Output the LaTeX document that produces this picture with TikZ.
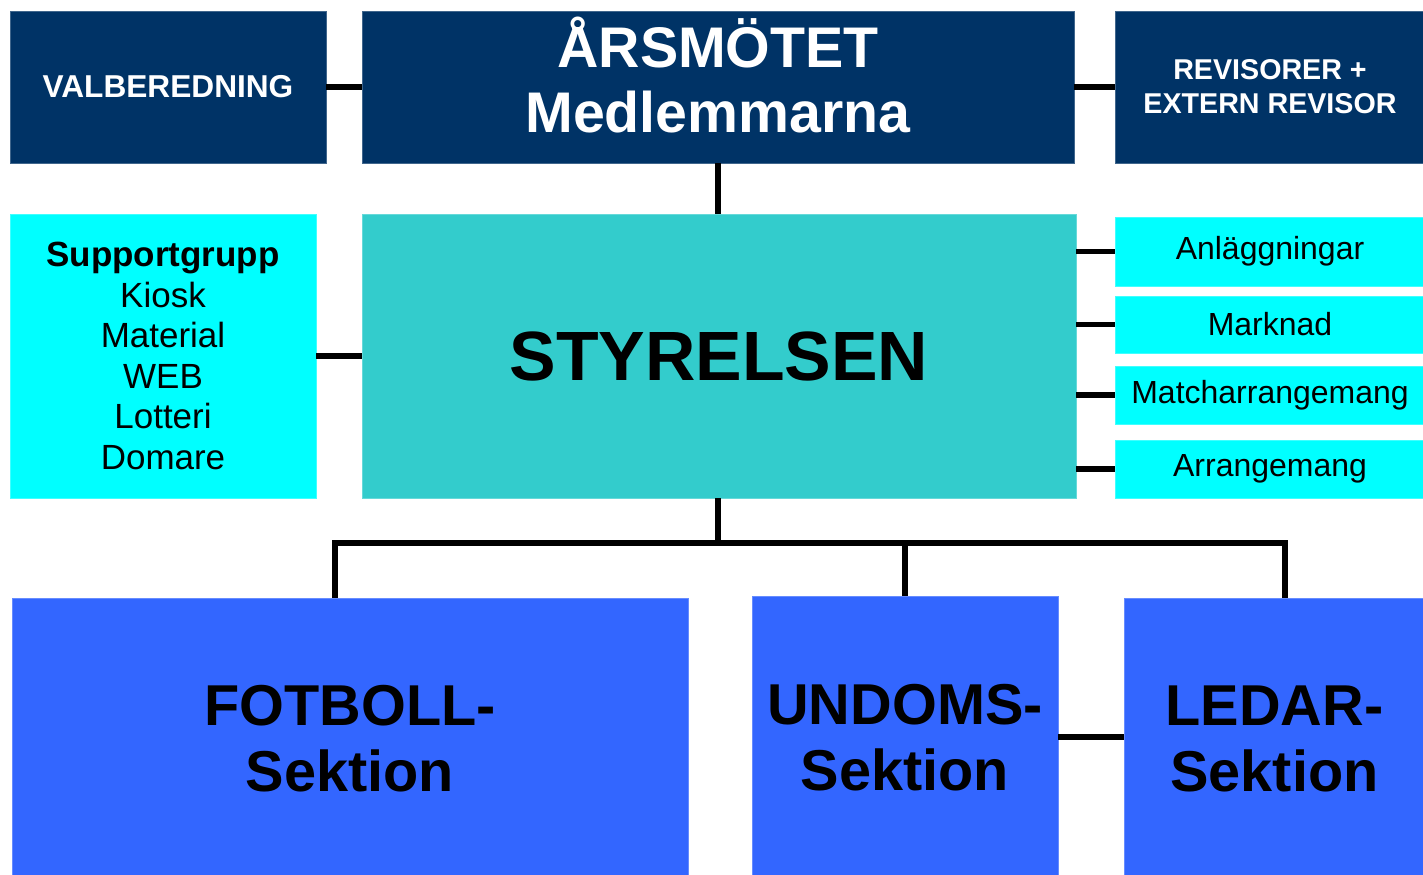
\documentclass[tikz,border=0pt]{standalone}
\usepackage{fontspec}
\setmainfont{Liberation Sans}
\definecolor{navy}{HTML}{003366}
\definecolor{teal}{HTML}{33CCCC}
\definecolor{aqua}{HTML}{00FFFF}
\definecolor{royal}{HTML}{3366FF}
\begin{document}
\begin{tikzpicture}[line width=3.4pt,
    box/.style = {rectangle,draw=#1!75!white,line width=0.5pt,fill=#1,inner sep=2pt,align=center},
    top/.style = {box=navy,text=white,font=\bfseries\fontsize{18}{19.3}\selectfont,minimum height=3.04cm},
    task/.style = {box=aqua,minimum width=6.2cm,font=\fontsize{18.2}{20}\selectfont},
    sektion/.style = {box=royal,font=\bfseries\fontsize{32.8}{37.5}\selectfont}]

        \useasboundingbox (0,0) rectangle (28.46,-17.48);

        % Top row
        \node [top,minimum width=6.32cm] (val) at (3.36,-1.74) {VALBEREDNING};
        \node [top,minimum width=14.24cm] (ars) at (14.36,-1.74) {};
        \node [text=white,font=\bfseries\fontsize{32.6}{37}\selectfont,align=center] (arstext) at (14.36,-1.50) {ÅRSMÖTET\\Medlemmarna};
        \node [top,minimum width=6.2cm,font=\bfseries\fontsize{16.3}{19.3}\selectfont] (rev) at (25.4,-1.74) {REVISORER +\\EXTERN REVISOR};

        % Middle row
        \node [box=aqua,minimum width=6.12cm,minimum height=5.68cm,font=\fontsize{19.9}{23.1}\selectfont] (sup) at (3.26,-7.12)
            {\textbf{Supportgrupp}\\Kiosk\\Material\\WEB\\Lotteri\\Domare};
        \node [box=teal,minimum width=14.28cm,minimum height=5.68cm,font=\bfseries\fontsize{39.7}{44}\selectfont] (sty) at (14.38,-7.12) {STYRELSEN};

        % Groups to the right
        \node [task,minimum height=1.38cm] (anl) at (25.4,-5.03) {Anläggningar};
        \node [task,minimum height=1.14cm] (mark) at (25.4,-6.49) {Marknad};
        \node [task,minimum height=1.16cm] (match) at (25.4,-7.90) {Matcharrangemang};
        \node [task,minimum height=1.16cm] (arr) at (25.4,-9.38) {Arrangemang};

        % Sections
        \node [sektion,minimum width=13.52cm,minimum height=5.64cm] (fot) at (7.0,-14.78) {FOTBOLL-\\Sektion};
        \node [sektion,minimum width=6.12cm,minimum height=5.68cm] (und) at (18.1,-14.76) {UNDOMS-\\Sektion};
        \node [sektion,minimum width=6.02cm,minimum height=5.64cm] (led) at (25.49,-14.78) {LEDAR-\\Sektion};

        % Connectors
        \draw (val.east) -- (ars.west);
        \draw (ars.east) -- (rev.west);
        \draw (ars.south) -- (ars.south |- sty.north);
        \draw (sup.east) -- (sty.west);
        \foreach \g in {anl,mark,match,arr}
            \draw (\g.west) -- (\g.west -| sty.east);

        \coordinate (busL) at (6.7,-10.86);
        \coordinate (busR) at (25.7,-10.86);
        \draw (ars.south |- sty.south) -- (ars.south |- busL);
        \draw (fot.north -| busL) -- (busL) -- (busR) -- (led.north -| busR);
        \draw (und.north) -- (und.north |- busL);
        \draw ([yshift=0.02cm]und.east) -- ([yshift=0.02cm]und.east -| led.west);

    \end{tikzpicture}
\end{document}
